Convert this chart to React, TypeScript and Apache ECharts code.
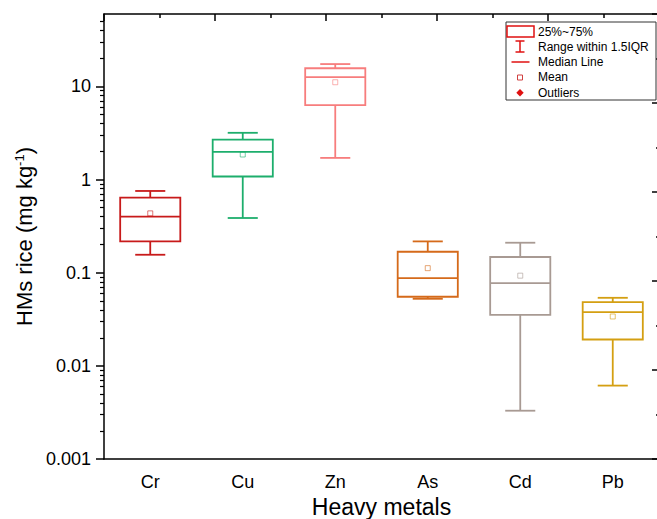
import React, { useEffect, useRef } from "react";
import * as echarts from "echarts";

const categories = ["Cr", "Cu", "Zn", "As", "Cd", "Pb"];
const lowerWhisker = [0.156, 0.387, 1.71, 0.0525, 0.0033, 0.00614];
const q1Values = [0.217, 1.08, 6.3, 0.0552, 0.0353, 0.0192];
const medianValues = [0.4, 1.98, 12.6, 0.0877, 0.0775, 0.0378];
const q3Values = [0.64, 2.69, 15.7, 0.168, 0.1475, 0.0484];
const upperWhisker = [0.755, 3.18, 17.4, 0.217, 0.21, 0.0538];
const meanValues = [0.434, 1.86, 11.1, 0.112, 0.093, 0.0339];
const boxColors = ["#C81A1A", "#1DAE6C", "#F77D7D", "#D56A1A", "#A89A93", "#D49F12"];

const yTickValues = [0.001, 0.01, 0.1, 1, 10];
const yTickLabels = ["0.001", "0.01", "0.1", "1", "10"];
const minorMultipliers = [2, 3, 4, 5, 6, 7, 8, 9];
const yMinorTicks = yTickValues
  .flatMap((d) => minorMultipliers.map((m) => +(d * m).toPrecision(3)))
  .filter((v) => v < 60);

const FONT = "'Liberation Sans', Arial, sans-serif";

export default function App() {
  const ref = useRef<HTMLDivElement>(null);
  useEffect(() => {
    if (!ref.current) return;
    const chart = echarts.init(ref.current, undefined, { renderer: "svg" });
    const boxData = categories.map((_, i) => [
      i,
      lowerWhisker[i],
      q1Values[i],
      medianValues[i],
      q3Values[i],
      upperWhisker[i],
      meanValues[i],
    ]);
    const legendRed = "#E01010";
    const legendX = 520;
    const option: any = {
      animation: false,
      backgroundColor: "#fff",
      grid: { left: 104, top: 14, right: -2, bottom: 60, outerBoundsMode: "none", containLabel: false },
      xAxis: [
        {
          type: "category",
          data: categories,
          position: "bottom",
          boundaryGap: true,
          axisLine: { lineStyle: { color: "#000", width: 1.5 } },
          axisTick: { alignWithLabel: true, length: 5, lineStyle: { color: "#000", width: 1.5 } },
          axisLabel: { fontSize: 18, color: "#000", margin: 14, fontFamily: FONT },
          splitLine: { show: false },
          name: "Heavy metals",
          nameLocation: "middle",
          nameGap: 35,
          nameTextStyle: { fontSize: 23, color: "#000", fontFamily: FONT },
        },
        {
          type: "value",
          position: "top",
          min: 0,
          max: 5,
          interval: 1,
          axisLine: { show: true, lineStyle: { color: "#000", width: 1.5 } },
          axisTick: { show: true, inside: true, length: 7, lineStyle: { color: "#000", width: 1.5 } },
          minorTick: { show: true, splitNumber: 2, length: 4, lineStyle: { color: "#000", width: 1.5 } },
          axisLabel: { show: false },
          splitLine: { show: false },
        },
      ],
      yAxis: [
        {
          type: "log",
          logBase: 10,
          min: 0.001,
          max: 60,
          position: "left",
          axisLine: { show: true, lineStyle: { color: "#000", width: 1.5 } },
          axisTick: { show: true, customValues: yTickValues, length: 8, lineStyle: { color: "#000", width: 1.5 } },
          axisLabel: {
            customValues: yTickValues,
            formatter: (v: number) => {
              const idx = yTickValues.findIndex((t) => Math.abs(Math.log10(t) - Math.log10(v)) < 1e-6);
              return idx >= 0 ? yTickLabels[idx] : "";
            },
            fontSize: 18,
            color: "#000",
            margin: 13,
            fontFamily: FONT,
          },
          splitLine: { show: false },
          name: "HMs rice (mg kg{sup|-1})",
          nameLocation: "middle",
          nameGap: 62,
          nameRotate: 90,
          nameTextStyle: {
            fontSize: 22,
            color: "#000",
            fontFamily: FONT,
            rich: { sup: { fontSize: 13, verticalAlign: "top", color: "#000", fontFamily: FONT } },
          },
        },
        {
          type: "value",
          position: "right",
          min: 0,
          max: 5,
          interval: 1,
          axisLine: { show: true, lineStyle: { color: "#000", width: 1.5 } },
          axisTick: { show: true, inside: true, length: 7, lineStyle: { color: "#000", width: 1.5 } },
          minorTick: { show: true, splitNumber: 2, length: 3, lineStyle: { color: "#000", width: 1.5 } },
          axisLabel: { show: false },
          splitLine: { show: false },
        },
        {
          type: "log",
          logBase: 10,
          min: 0.001,
          max: 60,
          position: "left",
          axisLine: { show: false },
          axisTick: { show: true, customValues: yMinorTicks, length: 4, lineStyle: { color: "#000", width: 1.2 } },
          axisLabel: { show: false },
          splitLine: { show: false },
        },
      ],
      series: [
        {
          type: "custom",
          xAxisIndex: 0,
          yAxisIndex: 0,
          data: boxData,
          encode: { x: 0, y: [1, 2, 3, 4, 5, 6] },
          renderItem: (params: any, api: any) => {
            const i = api.value(0);
            const color = boxColors[i];
            const pLow = api.coord([i, api.value(1)]);
            const pQ1 = api.coord([i, api.value(2)]);
            const pMed = api.coord([i, api.value(3)]);
            const pQ3 = api.coord([i, api.value(4)]);
            const pHigh = api.coord([i, api.value(5)]);
            const pMean = api.coord([i, api.value(6)]);
            const band = api.coord([1, api.value(3)])[0] - api.coord([0, api.value(3)])[0];
            const bw = band * 0.65;
            const cx = pMed[0];
            const half = bw / 2;
            const cap = bw / 4;
            const ls = { stroke: color, lineWidth: 1.8, fill: null };
            return {
              type: "group",
              children: [
                { type: "line", shape: { x1: cx, y1: pQ3[1], x2: cx, y2: pHigh[1] }, style: ls },
                { type: "line", shape: { x1: cx, y1: pQ1[1], x2: cx, y2: pLow[1] }, style: ls },
                { type: "line", shape: { x1: cx - cap, y1: pHigh[1], x2: cx + cap, y2: pHigh[1] }, style: ls },
                { type: "line", shape: { x1: cx - cap, y1: pLow[1], x2: cx + cap, y2: pLow[1] }, style: ls },
                {
                  type: "rect",
                  shape: { x: cx - half, y: pQ3[1], width: bw, height: pQ1[1] - pQ3[1] },
                  style: { stroke: color, lineWidth: 1.8, fill: "none" },
                },
                { type: "line", shape: { x1: cx - half, y1: pMed[1], x2: cx + half, y2: pMed[1] }, style: ls },
                {
                  type: "rect",
                  shape: { x: pMean[0] - 2.5, y: pMean[1] - 2.5, width: 5, height: 5 },
                  style: { stroke: color, lineWidth: 1, fill: "none", opacity: 0.6 },
                },
              ],
            };
          },
        },
      ],
      graphic: [
        {
          type: "rect",
          shape: { x: 506, y: 22, width: 150, height: 78 },
          style: { stroke: "#333", lineWidth: 1, fill: "#fff" },
          z: 10,
        },
        {
          type: "rect",
          shape: { x: 507, y: 26, width: 27, height: 11 },
          style: { stroke: legendRed, lineWidth: 1.5, fill: "none" },
          z: 11,
        },
        { type: "line", shape: { x1: legendX, y1: 41, x2: legendX, y2: 52 }, style: { stroke: legendRed, lineWidth: 1.5 }, z: 11 },
        { type: "line", shape: { x1: legendX - 4.5, y1: 41, x2: legendX + 4.5, y2: 41 }, style: { stroke: legendRed, lineWidth: 1.5 }, z: 11 },
        { type: "line", shape: { x1: legendX - 4.5, y1: 52, x2: legendX + 4.5, y2: 52 }, style: { stroke: legendRed, lineWidth: 1.5 }, z: 11 },
        { type: "line", shape: { x1: 511.5, y1: 62, x2: 529.5, y2: 62 }, style: { stroke: legendRed, lineWidth: 1.5 }, z: 11 },
        {
          type: "rect",
          shape: { x: legendX - 2.5, y: 75, width: 5, height: 5 },
          style: { stroke: "#D04040", lineWidth: 1, fill: "none" },
          z: 11,
        },
        {
          type: "polygon",
          shape: { points: [[legendX, 89], [legendX + 3.7, 92.7], [legendX, 96.4], [legendX - 3.7, 92.7]] },
          style: { fill: legendRed },
          z: 11,
        },
        ...["25%~75%", "Range within 1.5IQR", "Median Line", "Mean", "Outliers"].map((t, k) => ({
          type: "text",
          x: 538,
          y: [31.7, 46.7, 62, 77.3, 92.7][k],
          style: { text: t, fontSize: 12, fill: "#000", fontFamily: FONT, verticalAlign: "middle", align: "left" },
          z: 11,
        })),
      ],
    };
    chart.setOption(option);
    return () => chart.dispose();
  }, []);
  return (
    <div
      ref={ref}
      style={{ position: "fixed", left: 0, top: 0, width: 657, height: 519 }}
    />
  );
}
